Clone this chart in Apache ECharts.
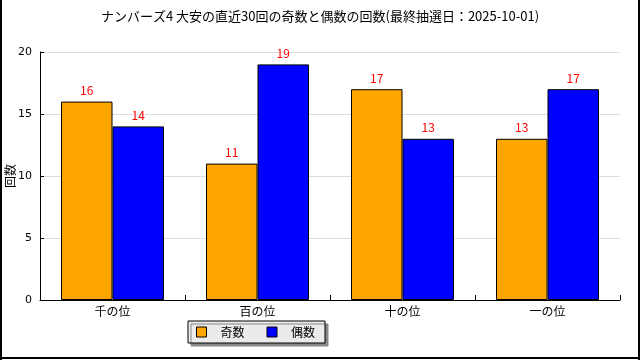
<!DOCTYPE html>
<html><head><meta charset="utf-8">
<script src="https://cdn.jsdelivr.net/npm/echarts@6/dist/echarts.min.js"></script>
<style>html,body{margin:0;padding:0;background:#fff}#c{width:640px;height:360px}</style>
</head><body><div id="c"></div>
<script>
var titleText = 'ナンバーズ4 大安の直近30回の奇数と偶数の回数(最終抽選日：2025-10-01)';
var categories = ['千の位', '百の位', '十の位', '一の位'];
var oddValues = [16, 11, 17, 13];
var evenValues = [14, 19, 13, 17];
var seriesNames = ['奇数', '偶数'];
var yName = '回数';

var chart = echarts.init(document.getElementById('c'));
var font = "'Noto Sans CJK JP', 'DejaVu Sans', sans-serif";
function barSeries(name, data, color) {
  return {
    name: name, type: 'bar', data: data, barGap: '0%', barCategoryGap: '29%',
    itemStyle: { color: color, borderColor: '#000', borderWidth: 1 },
    label: { show: true, position: 'top', distance: 5, color: '#ff0000', fontSize: 12, fontFamily: font },
    emphasis: { disabled: true }
  };
}
chart.setOption({
  animation: false,
  textStyle: { fontFamily: font },
  title: { text: titleText, left: 'center', top: 5, textStyle: { fontSize: 13, fontWeight: 'normal', color: '#000', fontFamily: font } },
  grid: { left: 40, right: 20, top: 52, bottom: 60, containLabel: false, outerBoundsMode: 'none' },
  legend: {
    data: seriesNames, left: 188, top: 321, orient: 'horizontal',
    itemWidth: 10, itemHeight: 10, itemGap: 22, icon: 'rect',
    padding: [5, 10, 5, 8],
    backgroundColor: '#ebebeb', borderColor: '#000', borderWidth: 1,
    shadowColor: '#888', shadowOffsetX: 3, shadowOffsetY: 3, shadowBlur: 0,
    itemStyle: { borderColor: '#000', borderWidth: 1 },
    textStyle: { fontSize: 12, color: '#000', padding: [0, 0, 0, 9], fontFamily: font }
  },
  xAxis: {
    type: 'category', data: categories,
    axisLine: { lineStyle: { color: '#000', width: 1 } },
    axisTick: { show: true, inside: true, length: 5, lineStyle: { color: '#000' } },
    axisLabel: { color: '#000', fontSize: 12, margin: 5, fontFamily: font }
  },
  yAxis: {
    type: 'value', min: 0, max: 20, interval: 5,
    name: yName, nameLocation: 'middle', nameGap: 24, nameRotate: 90, nameMoveOverlap: false,
    nameTextStyle: { fontSize: 12, color: '#000', fontFamily: font },
    axisLine: { show: true, lineStyle: { color: '#000', width: 1 } },
    axisTick: { show: true, inside: true, length: 4, lineStyle: { color: '#000' } },
    axisLabel: { color: '#000', fontSize: 11, margin: 8, fontFamily: "'DejaVu Sans', sans-serif" },
    splitLine: { show: true, lineStyle: { color: '#dddddd', width: 1 } }
  },
  graphic: [
    { type: 'rect', shape: { x: 0, y: 0, width: 2, height: 360 }, style: { fill: '#000' }, silent: true },
    { type: 'rect', shape: { x: 638, y: 0, width: 2, height: 360 }, style: { fill: '#000' }, silent: true },
    { type: 'rect', shape: { x: 0, y: 357, width: 640, height: 2 }, style: { fill: '#000' }, silent: true }
  ],
  series: [
    barSeries(seriesNames[0], oddValues, '#ffa500'),
    barSeries(seriesNames[1], evenValues, '#0000ff')
  ]
});
</script></body></html>
